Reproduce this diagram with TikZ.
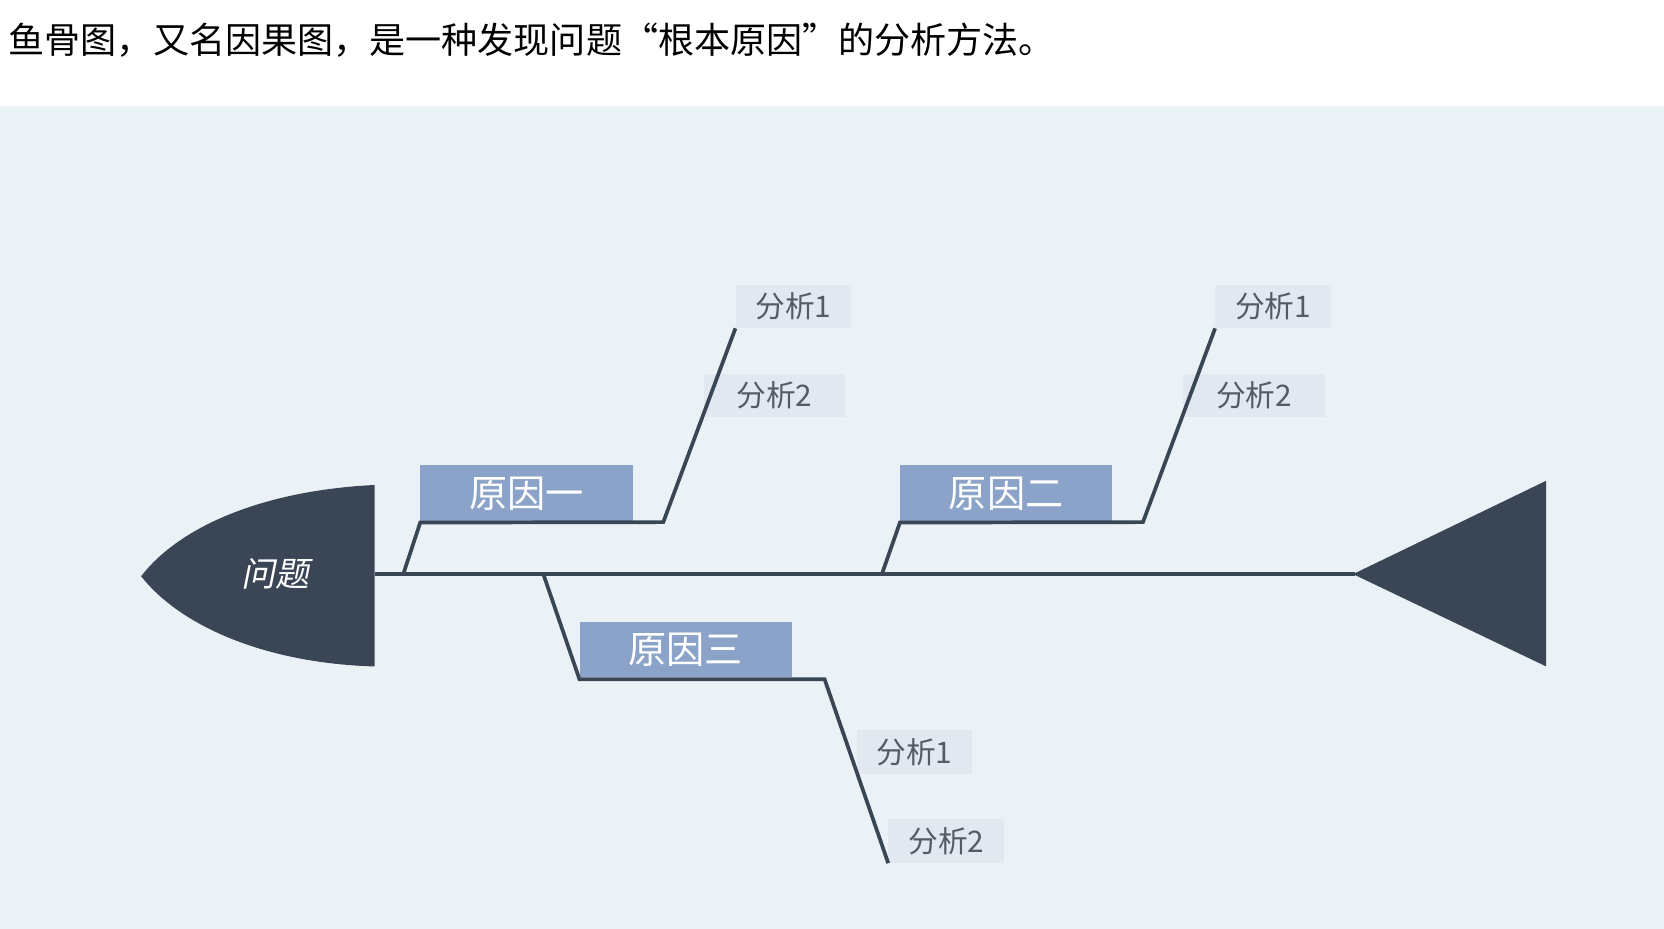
\documentclass[tikz,border=0pt]{standalone}
\usepackage{fontspec}
\setmainfont{Open Sans}
\newfontfamily\cjk{Noto Sans CJK SC}
\definecolor{bg}{HTML}{EBF2F6}
\definecolor{dark}{HTML}{3A4556}
\definecolor{cause}{HTML}{8BA3C9}
\definecolor{ana}{HTML}{E2E8F0}
\definecolor{anatext}{HTML}{555B66}
\tikzset{
 bone/.style={draw=dark,line width=3.5pt,line join=miter},
 causebox/.style={fill=cause,text=white,minimum width=200pt,minimum height=54pt,inner sep=0pt,font=\cjk\fontsize{36}{40}\selectfont},
 anabox/.style={fill=ana,text=anatext,minimum height=41pt,inner sep=0pt,font=\cjk\fontsize{28}{32}\selectfont},
}
\begin{document}
\begin{tikzpicture}[x=1pt,y=-1pt]
\useasboundingbox (0,0) rectangle (1568,875);
\fill[white] (0,0) rectangle (1568,875);
\fill[bg] (0,100) rectangle (1568,875);
\node[anchor=west,inner sep=0pt,font=\cjk\fontsize{34}{38}\selectfont] (title) at (8,38) {鱼骨图，又名因果图，是一种发现问题“根本原因”的分析方法。};
% spine
\coordinate (sL) at (353,541); \coordinate (sR) at (1277,541);
\draw[bone] (sL) -- (sR);
\fill[dark] (353,457) .. controls (250,462) and (170,495) .. (133,543) .. controls (170,590) and (250,625) .. (353,628) -- cycle;
\node[text=white,font=\cjk\fontsize{32}{36}\selectfont,xslant=0.2] (head) at (262,541) {问题};
\fill[dark] (1275,541) -- (1457,453) -- (1457,628) -- cycle;
% cause 1
\node[causebox,anchor=north west] (c1) at (396,438) {原因一};
\node[anabox,anchor=north west,minimum width=109pt] (a11) at (693,268) {分析1};
\node[anabox,anchor=north west,minimum width=133pt] (a12) at (663,352) {分析2};
\coordinate (j1a) at (380,541); \coordinate (j1b) at (625,492);
\draw[bone] (j1a) -- (c1.south west) -- (j1b) -- (a11.south west);
% cause 2
\node[causebox,anchor=north west] (c2) at (848,438) {原因二};
\node[anabox,anchor=north west,minimum width=109pt] (a21) at (1145,268) {分析1};
\node[anabox,anchor=north west,minimum width=133pt] (a22) at (1115,352) {分析2};
\coordinate (j2a) at (831,541); \coordinate (j2b) at (1077,492);
\draw[bone] (j2a) -- (c2.south west) -- (j2b) -- (a21.south west);
% cause 3
\node[causebox,anchor=north west,minimum height=52pt] (c3) at (546,586) {原因三};
\node[anabox,anchor=north west,minimum width=109pt] (a31) at (807,688) {分析1};
\node[anabox,anchor=north west,minimum width=109pt] (a32) at (837,772) {分析2};
\coordinate (j3a) at (512,541); \coordinate (j3b) at (546,640); \coordinate (j3c) at (777,640);
\draw[bone] (j3a) -- (j3b) -- (j3c) -- (a32.south west);
\end{tikzpicture}
\end{document}
